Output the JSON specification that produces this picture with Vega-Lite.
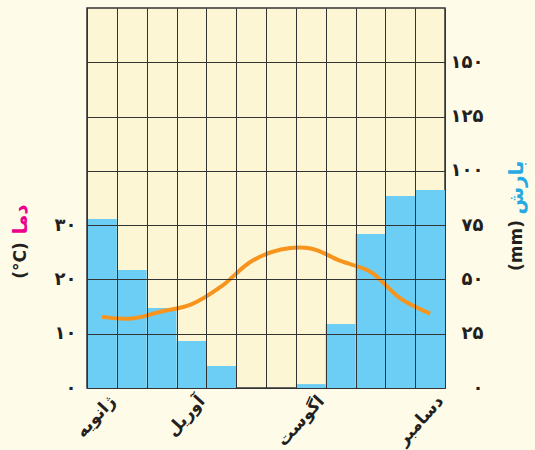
{
  "$schema": "https://vega.github.io/schema/vega-lite/v6.json",
  "width": 358,
  "height": 380,
  "autosize": "none",
  "padding": {"left": 87, "top": 8, "right": 90, "bottom": 62},
  "background": "#fffbe9",
  "config": {
    "view": {"fill": "#fdf6d5", "stroke": "#333333", "strokeWidth": 1.5},
    "axis": {"labelFont": "DejaVu Sans", "titleFont": "DejaVu Sans", "labelColor": "#231f20"}
  },
  "data": {
    "values": [
      {"month": 1, "name": "ژانویه", "precip": 77.8, "temp": 13.1},
      {"month": 2, "name": "فوریه", "precip": 54.3, "temp": 12.8},
      {"month": 3, "name": "مارس", "precip": 36.8, "temp": 14.1},
      {"month": 4, "name": "آوریل", "precip": 21.6, "temp": 15.4},
      {"month": 5, "name": "مه", "precip": 10.1, "temp": 18.7},
      {"month": 6, "name": "ژوئن", "precip": 0, "temp": 23.3},
      {"month": 7, "name": "ژوئیه", "precip": 0, "temp": 25.5},
      {"month": 8, "name": "اگوست", "precip": 1.8, "temp": 25.7},
      {"month": 9, "name": "سپتامبر", "precip": 29.5, "temp": 23.4},
      {"month": 10, "name": "اکتبر", "precip": 70.9, "temp": 21.4},
      {"month": 11, "name": "نوامبر", "precip": 88.4, "temp": 16.5},
      {"month": 12, "name": "دسامبر", "precip": 91.2, "temp": 13.7}
    ]
  },
  "layer": [
    {
      "mark": {"type": "bar", "width": 29.8, "color": "#6dcef5"},
      "encoding": {
        "x": {
          "field": "month", "type": "quantitative",
          "scale": {"domain": [0.5, 12.5], "nice": false, "zero": false, "padding": 0},
          "axis": {
            "values": [0.5, 1.5, 2.5, 3.5, 4.5, 5.5, 6.5, 7.5, 8.5, 9.5, 10.5, 11.5, 12.5],
            "tickCount": 30,
            "grid": true, "gridColor": "#333333", "gridOpacity": 1, "gridWidth": 1,
            "ticks": false, "domain": false, "title": null, "zindex": 1,
            "labelExpr": "datum.value == 0.5 ? 'ژانویه' : datum.value == 3.5 ? 'آوریل' : datum.value == 7.5 ? 'اگوست' : datum.value == 11.5 ? 'دسامبر' : ''",
            "labelAngle": -48, "labelAlign": "right", "labelBaseline": "middle",
            "labelOffset": 25, "labelPadding": 10, "labelFontSize": 17, "labelFontWeight": "bold",
            "labelOverlap": false, "labelBound": false, "labelFlush": false
          }
        },
        "y": {
          "field": "precip", "type": "quantitative",
          "scale": {"domain": [0, 175], "nice": false},
          "axis": {
            "orient": "right",
            "values": [0, 25, 50, 75, 100, 125, 150],
            "tickCount": 20,
            "grid": true, "gridColor": "#333333", "gridOpacity": 1, "gridWidth": 1,
            "ticks": false, "domain": false, "zindex": 1,
            "labelAlign": "right", "labelPadding": 38, "labelBaseline": "middle",
            "labelFontSize": 18, "labelFontWeight": "bold",
            "labelExpr": "replace(replace(replace(replace(replace(replace(datum.label, regexp('0','g'), '۰'), regexp('1','g'), '۱'), regexp('2','g'), '۲'), regexp('3','g'), '۳'), regexp('5','g'), '۵'), regexp('7','g'), '۷')",
            "title": "بارش", "titleColor": "#27aae1", "titleFontSize": 20, "titleFontWeight": "bold",
            "titleAngle": -90, "titleX": 71, "titleY": 179, "titleAlign": "center", "titleBaseline": "middle"
          }
        }
      }
    },
    {
      "mark": {"type": "bar", "width": 29.8, "opacity": 0},
      "encoding": {
        "x": {"field": "month", "type": "quantitative"},
        "y": {
          "field": "precip", "type": "quantitative",
          "scale": {"domain": [0, 175], "nice": false},
          "axis": {
            "orient": "right", "labels": false, "grid": false, "ticks": false, "domain": false,
            "title": "(mm)", "titleColor": "#231f20", "titleFontSize": 17, "titleFontWeight": "bold",
            "titleAngle": -90, "titleX": 71, "titleY": 237, "titleAlign": "center", "titleBaseline": "middle"
          }
        }
      }
    },
    {
      "mark": {"type": "line", "color": "#f7941d", "strokeWidth": 4, "interpolate": "catmull-rom"},
      "encoding": {
        "x": {"field": "month", "type": "quantitative"},
        "y": {
          "field": "temp", "type": "quantitative",
          "scale": {"domain": [0, 70], "nice": false},
          "axis": {
            "orient": "left",
            "values": [0, 10, 20, 30],
            "tickCount": 20,
            "grid": false, "ticks": false, "domain": false,
            "labelPadding": 11, "labelBaseline": "middle",
            "labelFontSize": 18, "labelFontWeight": "bold",
            "labelExpr": "replace(replace(replace(replace(datum.label, regexp('0','g'), '۰'), regexp('1','g'), '۱'), regexp('2','g'), '۲'), regexp('3','g'), '۳')",
            "title": "دما", "titleColor": "#ec008c", "titleFontSize": 20, "titleFontWeight": "bold",
            "titleAngle": -90, "titleX": -67, "titleY": 211, "titleAlign": "center", "titleBaseline": "middle"
          }
        }
      }
    },
    {
      "mark": {"type": "line", "strokeOpacity": 0},
      "encoding": {
        "x": {"field": "month", "type": "quantitative"},
        "y": {
          "field": "temp", "type": "quantitative",
          "scale": {"domain": [0, 70], "nice": false},
          "axis": {
            "orient": "left", "labels": false, "grid": false, "ticks": false, "domain": false,
            "title": "(°C)", "titleColor": "#231f20", "titleFontSize": 17, "titleFontWeight": "bold",
            "titleAngle": -90, "titleX": -67, "titleY": 252, "titleAlign": "center", "titleBaseline": "middle"
          }
        }
      }
    }
  ],
  "resolve": {"scale": {"y": "independent"}}
}
